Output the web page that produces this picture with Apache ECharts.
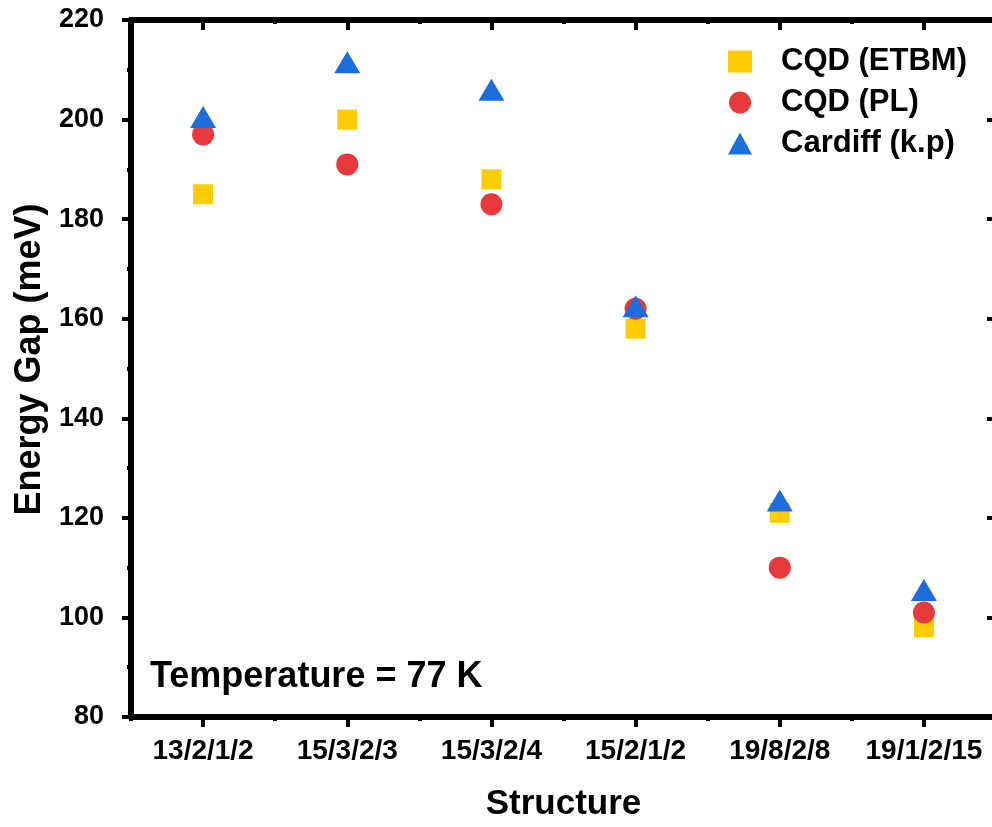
<!DOCTYPE html>
<html>
<head>
<meta charset="utf-8">
<script src="https://cdn.jsdelivr.net/npm/echarts@6/dist/echarts.min.js"></script>
<style>
html,body{margin:0;padding:0;background:#fff;overflow:hidden;}
#chart{width:1002px;height:827px;}
</style>
</head>
<body>
<div id="chart"></div>
<script>
var categories = ['13/2/1/2', '15/3/2/3', '15/3/2/4', '15/2/1/2', '19/8/2/8', '19/1/2/15'];
var etbm = [185, 200, 188, 158, 121, 98];
var pl = [197, 191, 183, 162, 110, 101];
var cardiff = [200.5, 211.5, 206, 162.5, 123.5, 105.5];
var seriesNames = ['CQD (ETBM)', 'CQD (PL)', 'Cardiff (k.p)'];
var yMin = 80, yMax = 220, yStep = 20;
var annotation = 'Temperature = 77 K';

var FONT = '"Liberation Sans", Arial, sans-serif';
var chart = echarts.init(document.getElementById('chart'), null, {renderer: 'canvas'});
var axW = 6;

function catAxis(pos, isMain, minor) {
  return {
    type: 'category',
    data: categories,
    position: pos,
    boundaryGap: true,
    axisLine: {show: !minor, lineStyle: {color: '#000', width: axW}},
    axisTick: {
      show: true,
      interval: 0,
      alignWithLabel: !minor,
      inside: pos === 'top',
      length: minor ? 4 : 10,
      lineStyle: {color: '#000', width: 4}
    },
    axisLabel: isMain ? {
      show: true, interval: 0, color: '#000', fontFamily: FONT, fontWeight: 'bold', fontSize: 28, margin: 20
    } : {show: false, interval: 0},
    name: isMain ? 'Structure' : '',
    nameLocation: 'middle',
    nameGap: 70,
    nameTextStyle: {color: '#000', fontFamily: FONT, fontWeight: 'bold', fontSize: 35},
    splitLine: {show: false}
  };
}

function valAxis(pos, isMain) {
  return {
    type: 'value',
    position: pos,
    min: yMin, max: yMax, interval: yStep,
    axisLine: {show: true, lineStyle: {color: '#000', width: axW}},
    axisTick: {show: true, inside: !isMain, length: 9, lineStyle: {color: '#000', width: 4}},
    minorTick: {show: true, splitNumber: 2, length: 4, lineStyle: {color: '#000', width: 4}},
    axisLabel: isMain ? {
      show: true, color: '#000', fontFamily: FONT, fontWeight: 'bold', fontSize: 27, margin: 27
    } : {show: false},
    splitLine: {show: false},
    minorSplitLine: {show: false},
    name: isMain ? 'Energy Gap (meV)' : '',
    nameLocation: 'middle',
    nameGap: 83,
    nameTextStyle: {color: '#000', fontFamily: FONT, fontWeight: 'bold', fontSize: 36, padding: [0, 0, 0, 18]}
  };
}

var option = {
  backgroundColor: '#fff',
  animation: false,
  grid: {left: 131, right: 6, top: 20, bottom: 109, containLabel: false},
  xAxis: [
    catAxis('bottom', true, false),
    catAxis('bottom', false, true),
    catAxis('top', false, false),
    catAxis('top', false, true)
  ],
  yAxis: [valAxis('left', true), valAxis('right', false)],
  legend: {
    orient: 'vertical',
    left: 723,
    top: 41,
    itemWidth: 24,
    itemHeight: 22,
    itemGap: 10,
    textStyle: {color: '#000', fontFamily: FONT, fontWeight: 'bold', fontSize: 31, lineHeight: 30, padding: [0, 0, 0, 24]},
    data: seriesNames
  },
  graphic: [{
    type: 'text',
    x: 150, y: 677,
    style: {text: annotation, fill: '#000', font: 'bold 36px ' + FONT, align: 'left', verticalAlign: 'middle'}
  }],
  series: [
    {name: seriesNames[0], type: 'scatter', data: etbm, symbol: 'rect', symbolSize: 20,
     itemStyle: {color: '#FFCC00', opacity: 1}, z: 2},
    {name: seriesNames[1], type: 'scatter', data: pl, symbol: 'circle', symbolSize: 22,
     itemStyle: {color: '#E8393D', opacity: 1}, z: 3},
    {name: seriesNames[2], type: 'scatter', data: cardiff, symbol: 'triangle', symbolSize: [26, 22],
     itemStyle: {color: '#1B6EDB', opacity: 1}, z: 4}
  ]
};
chart.setOption(option);
</script>
</body>
</html>
